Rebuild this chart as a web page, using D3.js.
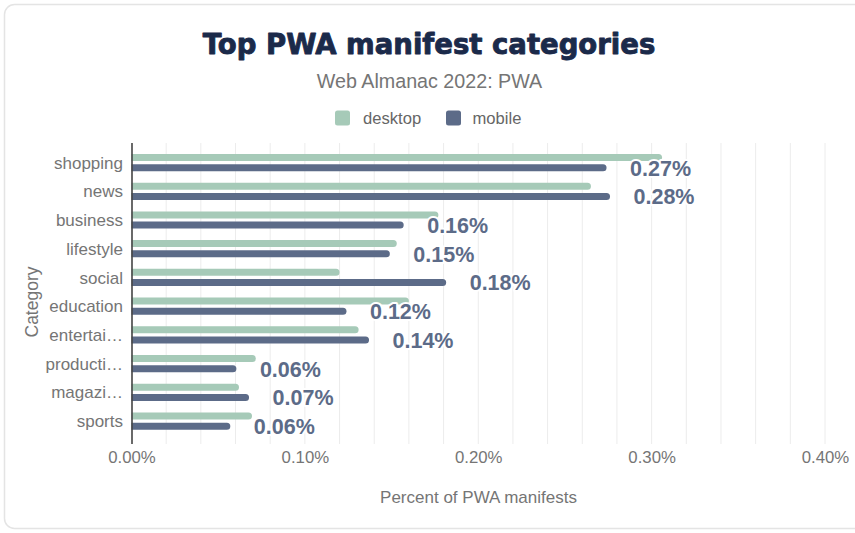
<!DOCTYPE html>
<html>
<head>
<meta charset="utf-8">
<script src="https://cdn.jsdelivr.net/npm/d3@7"></script>
<style>
  html, body { margin: 0; padding: 0; background: #fff; }
  svg { display: block; font-family: "Liberation Sans", Arial, Helvetica, sans-serif; }
</style>
</head>
<body>
<svg id="chart" width="855" height="533"></svg>
<script>
const categories = ["shopping", "news", "business", "lifestyle", "social", "education", "entertai…", "producti…", "magazi…", "sports"];
const seriesNames = ["desktop", "mobile"];
const desktop = [0.306, 0.265, 0.177, 0.153, 0.120, 0.160, 0.131, 0.0717, 0.062, 0.0695];
const mobile  = [0.274, 0.276, 0.157, 0.149, 0.1815, 0.124, 0.137, 0.0605, 0.0678, 0.057];
const xTicks = [0, 0.1, 0.2, 0.3, 0.4];
const gridTicks = d3.range(1, 21).map(i => i * 0.02);

const colors = { desktop: "#a6cab8", mobile: "#5c6b88" };

const svg = d3.select("#chart");

// card
svg.append("rect")
  .attr("x", 4.5).attr("y", 4.5).attr("width", 880).attr("height", 524)
  .attr("rx", 10).attr("fill", "#fff").attr("stroke", "#e4e4e4").attr("stroke-width", 1.5);

// title
svg.append("text")
  .attr("x", 429).attr("y", 53.5).attr("text-anchor", "middle")
  .style("font-family", "'DejaVu Sans', sans-serif").style("font-weight", "bold")
  .style("font-size", "27.5px").attr("fill", "#1b2a4a")
  .attr("stroke", "#1b2a4a").attr("stroke-width", 0.9).attr("stroke-linejoin", "round")
  .text("Top PWA manifest categories");

svg.append("text")
  .attr("x", 429.5).attr("y", 88.3).attr("text-anchor", "middle")
  .style("font-size", "19.7px").attr("fill", "#757575")
  .text("Web Almanac 2022: PWA");

// legend
const legendItems = [
  { name: "desktop", x: 335, tx: 363 },
  { name: "mobile", x: 446, tx: 472.5 }
];
const lg = svg.append("g");
legendItems.forEach(d => {
  lg.append("rect").attr("x", d.x).attr("y", 110.5).attr("width", 15).attr("height", 15)
    .attr("rx", 2.5).attr("fill", colors[d.name]);
  lg.append("text").attr("x", d.tx).attr("y", 123.5)
    .style("font-size", "16.6px").attr("fill", "#666")
    .text(d.name);
});

// scales
const x = d3.scaleLinear().domain([0, 0.4]).range([131.5, 825]);
const y = d3.scaleBand().domain(categories).range([148.2, 435.4]).padding(0);

// grid
svg.append("g").selectAll("line").data(gridTicks).join("line")
  .attr("x1", d => x(d)).attr("x2", d => x(d))
  .attr("y1", 143).attr("y2", 444)
  .attr("stroke", "#ececec").attr("stroke-width", 1);

// x tick labels
const xAxis = d3.axisBottom(x).tickValues(xTicks).tickSize(0).tickPadding(0)
  .tickFormat(d => d.toFixed(2) + "%");
const xg = svg.append("g").attr("transform", "translate(0,450)").call(xAxis);
xg.select(".domain").remove();
xg.selectAll("text").attr("fill", "#757575").style("font-size", "16.8px")
  .attr("dy", "0").attr("y", 12.7);

// bars
const barH = 7;
const offsets = { desktop: -5.1, mobile: 5.1 };
function barPath(x0, x1, cy, h) {
  const r = h / 2;
  const w = Math.max(0, x1 - x0);
  const rr = Math.min(r, w);
  return `M${x0},${cy - r} H${x1 - rr} A${rr},${r} 0 0 1 ${x1 - rr},${cy + r} H${x0} Z`;
}
const rows = categories.map((c, i) => ({ cat: c, desktop: desktop[i], mobile: mobile[i] }));
seriesNames.forEach(s => {
  svg.append("g").selectAll("path").data(rows).join("path")
    .attr("d", d => barPath(x(0), x(d[s]), y(d.cat) + y.bandwidth() / 2 + offsets[s], barH))
    .attr("fill", colors[s]);
});

// y axis line
svg.append("line").attr("x1", 132).attr("x2", 132).attr("y1", 143).attr("y2", 444)
  .attr("stroke", "#444").attr("stroke-width", 1.6);

// y labels
const yAxis = d3.axisLeft(y).tickSize(0).tickPadding(0);
const yg = svg.append("g").attr("transform", "translate(123,0)").call(yAxis);
yg.select(".domain").remove();
yg.selectAll("text").attr("fill", "#757575").style("font-size", "17px")
  .attr("dy", "0.36em").style("font-family", "'Liberation Sans', Arial, sans-serif");

// value labels (mobile)
svg.append("g").selectAll("text").data(rows).join("text")
  .attr("x", d => x(d.mobile) + 23.5)
  .attr("y", d => y(d.cat) + y.bandwidth() / 2 + offsets.mobile)
  .attr("dy", "0.37em")
  .style("font-size", "21.5px").style("font-weight", "bold")
  .attr("fill", colors.mobile)
  .attr("stroke", "#fff").attr("stroke-width", 4).attr("stroke-linejoin", "round")
  .style("paint-order", "stroke")
  .text(d => d.mobile.toFixed(2) + "%");

// axis titles
svg.append("text")
  .attr("x", 478.5).attr("y", 503).attr("text-anchor", "middle")
  .style("font-size", "17px").attr("fill", "#757575")
  .text("Percent of PWA manifests");

svg.append("text")
  .attr("transform", "translate(37.5,302) rotate(-90)")
  .attr("text-anchor", "middle")
  .style("font-size", "17.5px").attr("fill", "#757575")
  .text("Category");
</script>
</body>
</html>
